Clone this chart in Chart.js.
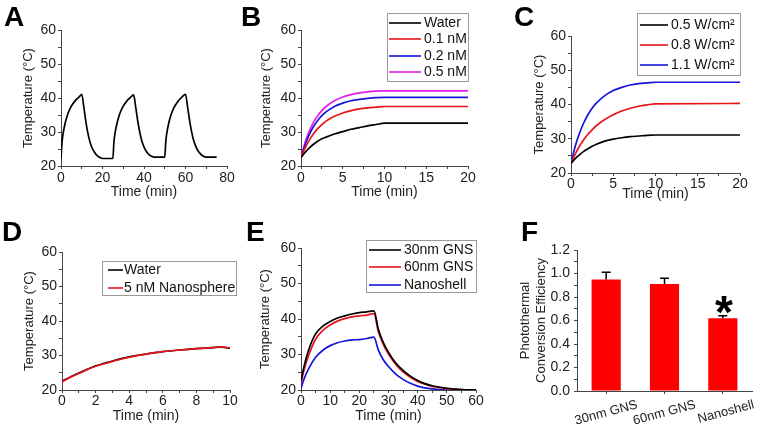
<!DOCTYPE html>
<html>
<head>
<meta charset="utf-8">
<script src="https://cdn.jsdelivr.net/npm/chart.js@4.4.1/dist/chart.umd.min.js"></script>
<style>
body { margin: 0; background: #fff; }
#fig { position: relative; width: 762px; height: 434px; overflow: hidden; background: #fff; }
canvas { position: absolute; }
.tag { position: absolute; font: bold 28px "Liberation Sans", Arial, sans-serif; line-height: 28px; color: #000; }
</style>
</head>
<body>
<div id="fig">
  <canvas id="cA" width="254" height="217" style="left:0px;top:0px;width:254px;height:217px"></canvas>
  <canvas id="cB" width="254" height="217" style="left:254px;top:0px;width:254px;height:217px"></canvas>
  <canvas id="cC" width="254" height="217" style="left:508px;top:0px;width:254px;height:217px"></canvas>
  <canvas id="cD" width="254" height="217" style="left:0px;top:217px;width:254px;height:217px"></canvas>
  <canvas id="cE" width="254" height="217" style="left:254px;top:217px;width:254px;height:217px"></canvas>
  <canvas id="cF" width="254" height="217" style="left:508px;top:217px;width:254px;height:217px"></canvas>
  <div class="tag" style="left:4px;top:3px">A</div>
  <div class="tag" style="left:241px;top:3px">B</div>
  <div class="tag" style="left:514px;top:3px">C</div>
  <div class="tag" style="left:2px;top:218px">D</div>
  <div class="tag" style="left:246px;top:218px">E</div>
  <div class="tag" style="left:521px;top:218px">F</div>
</div>
<script>
// ---- data ----

// A: three heat / cool cycles
const timeA = [0, 0.5, 1, 2, 3, 4, 5, 6, 7, 8, 9, 10, 11, 12, 13, 14, 15, 16, 17, 18, 19, 20, 25,
  25.5, 26, 27, 28, 29, 30, 31, 32, 33, 34, 35, 36, 37, 38, 39, 40, 41, 42, 43, 44, 45, 50,
  50.5, 51, 52, 53, 54, 55, 56, 57, 58, 59, 60, 61, 62, 63, 64, 65, 66, 67, 68, 69, 70, 75];
const tempA = [22.2, 27, 29.5, 32.6, 34.8, 36.4, 37.6, 38.5, 39.3, 39.9, 40.5, 41.1, 37.3, 33, 29.5, 27, 25.3, 24.2, 23.3, 22.8, 22.4, 22.2, 22.2,
  27, 29.5, 32.6, 34.8, 36.4, 37.6, 38.5, 39.3, 39.9, 40.5, 40.9, 37.3, 33.2, 29.8, 27.3, 25.6, 24.4, 23.6, 23.1, 22.8, 22.6, 22.6,
  27.2, 29.7, 32.8, 35, 36.6, 37.8, 38.7, 39.5, 40.1, 40.7, 41.1, 37.4, 33.3, 29.9, 27.4, 25.7, 24.5, 23.7, 23.1, 22.8, 22.6, 22.6];

// B: concentration
const timeB = [0, 0.5, 1, 1.5, 2, 2.5, 3, 4, 5, 6, 7, 8, 9, 10, 20];
const waterB = [22.5, 24, 25.3, 26.4, 27.3, 28, 28.5, 29.4, 30.1, 30.8, 31.3, 31.8, 32.2, 32.6, 32.6];
const nm01B = [22.5, 25.3, 27.6, 29.5, 31, 32.2, 33.2, 34.6, 35.6, 36.3, 36.8, 37.1, 37.3, 37.5, 37.5];
const nm02B = [22.5, 26.3, 29.3, 31.6, 33.4, 34.8, 35.9, 37.5, 38.5, 39.2, 39.6, 39.9, 40.1, 40.2, 40.2];
const nm05B = [22.5, 27, 30.3, 32.9, 34.8, 36.3, 37.5, 39.2, 40.3, 41, 41.5, 41.8, 42, 42.1, 42.1];
const labelsB = ['Water', '0.1 nM', '0.2 nM', '0.5 nM'];

// C: laser power
const timeC = [0, 0.5, 1, 1.5, 2, 2.5, 3, 4, 5, 6, 7, 8, 9, 10, 20];
const w05C = [22.8, 24.2, 25.3, 26.3, 27.1, 27.8, 28.4, 29.3, 29.9, 30.3, 30.6, 30.8, 31, 31.1, 31.1];
const w08C = [22.8, 25.5, 27.8, 29.7, 31.3, 32.6, 33.8, 35.6, 37, 38.1, 38.9, 39.5, 39.9, 40.2, 40.3];
const w11C = [22.8, 27.8, 31.6, 34.6, 37, 38.9, 40.4, 42.6, 44.1, 45, 45.7, 46.1, 46.3, 46.5, 46.5];
const labelsC = ['0.5 W/cm\u00b2', '0.8 W/cm\u00b2', '1.1 W/cm\u00b2'];

// D: nanosphere control
const timeD = [0, 0.5, 1, 1.5, 2, 2.5, 3, 4, 5, 6, 7, 8, 9, 9.5, 10];
const waterD = [22.5, 23.8, 24.9, 26, 27, 27.7, 28.4, 29.6, 30.4, 31.1, 31.6, 32, 32.3, 32.4, 32.1];
const sphereD = [22.4, 23.7, 24.8, 25.9, 26.9, 27.6, 28.3, 29.5, 30.4, 31.1, 31.6, 32, 32.3, 32.5, 32.2];
const labelsD = ['Water', '5 nM Nanosphere'];

// E: heating then cooling
const timeE = [0, 1, 2.5, 5, 7.5, 10, 12.5, 15, 17.5, 20, 22.5, 25, 26.5, 28, 30, 32.5, 35, 37.5, 40, 42.5, 45, 50, 55, 60];
const gns30E = [22.5, 26.5, 31, 35.8, 38, 39.3, 40.3, 40.9, 41.4, 41.8, 42, 42.3, 37.2, 33.8, 30.6, 27.6, 25.5, 23.9, 22.7, 21.8, 21.2, 20.5, 20.1, 20];
const gns60E = [22, 25.5, 29.5, 34.3, 36.8, 38.3, 39.4, 40.1, 40.6, 40.9, 41.1, 41.5, 36.5, 33.2, 30.1, 27.2, 25.1, 23.6, 22.4, 21.6, 21, 20.4, 20.1, 20];
const shellE = [20.5, 23, 25.8, 29.2, 31.2, 32.5, 33.3, 33.8, 34.1, 34.2, 34.5, 34.9, 31.3, 28.8, 26.6, 24.5, 23, 21.9, 21.1, 20.6, 20.3, 20, 20, 20];
const labelsE = ['30nm GNS', '60nm GNS', 'Nanoshell'];

// F: conversion efficiency
const catF = ['30nm GNS', '60nm GNS', 'Nanoshell'];
const effF = [0.95, 0.91, 0.62];
const errF = [0.06, 0.05, 0.02];
const markF = ['', '', '*'];

// ---- drawing ----
const fam = '"Liberation Sans", Arial, sans-serif';
const axisCol = '#444';
const txtCol = '#222';

// boxed legend inside the plot, like the original figure
Chart.register({
  id: 'boxLegend',
  afterDraw(chart, args, o) {
    if (!o.box) return;
    const ctx = chart.ctx;
    ctx.save();
    ctx.strokeStyle = '#9a9a9a';
    ctx.lineWidth = 1;
    ctx.strokeRect(o.box[0] + 0.5, o.box[1] + 0.5, o.box[2], o.box[3]);
    ctx.font = '14px ' + fam;
    ctx.textBaseline = 'middle';
    ctx.textAlign = 'left';
    chart.data.datasets.forEach((ds, i) => {
      const y = o.rows[i];
      ctx.strokeStyle = ds.borderColor;
      ctx.lineWidth = 1.6;
      ctx.beginPath();
      ctx.moveTo(o.line[0], y);
      ctx.lineTo(o.line[1], y);
      ctx.stroke();
      ctx.fillStyle = '#111';
      ctx.fillText(ds.label, o.textX, y);
    });
    ctx.restore();
  }
});

// error bars and significance mark for the bar panel
Chart.register({
  id: 'errBars',
  afterDatasetsDraw(chart, args, o) {
    if (!o.on) return;
    const ctx = chart.ctx, ys = chart.scales.y;
    const meta = chart.getDatasetMeta(0);
    ctx.save();
    ctx.strokeStyle = '#000';
    ctx.lineWidth = 1.5;
    meta.data.forEach((bar, i) => {
      const top = ys.getPixelForValue(effF[i] + errF[i]);
      ctx.beginPath();
      ctx.moveTo(bar.x, bar.y);
      ctx.lineTo(bar.x, top);
      ctx.moveTo(bar.x - 4.5, top);
      ctx.lineTo(bar.x + 4.5, top);
      ctx.stroke();
      if (markF[i]) {
        ctx.font = 'bold 46px ' + fam;
        ctx.textAlign = 'center';
        ctx.textBaseline = 'alphabetic';
        ctx.fillStyle = '#000';
        ctx.fillText(markF[i], bar.x + 1, top + 12);
      }
    });
    ctx.restore();
  }
});

function axis(min, max, step, every, fmt, pad, fitSize, horiz, title) {
  return {
    type: 'linear', min: min, max: max,
    border: { display: true, color: axisCol, width: 1 },
    grid: { display: true, drawOnChartArea: false, drawTicks: true, tickLength: 3, color: axisCol, tickColor: axisCol },
    ticks: {
      stepSize: step, autoSkip: false, maxRotation: 0, padding: pad, color: txtCol,
      font: { family: fam, size: 14 },
      callback: v => (Math.round(v / step) % every === 0 ? fmt(v) : '')
    },
    title: title,
    afterFit: s => { if (horiz) s.height = fitSize; else s.width = fitSize; }
  };
}

function lineChart(id, p) {
  return new Chart(document.getElementById(id), {
    type: 'line',
    data: {
      datasets: p.sets.map(s => ({
        label: s.label,
        data: s.x.map((t, i) => ({ x: t, y: s.y[i] })),
        borderColor: s.color,
        borderWidth: 1.7,
        pointRadius: 0,
        cubicInterpolationMode: 'monotone',
        fill: false,
        order: s.order || 0
      }))
    },
    options: {
      responsive: false, animation: false, events: [],
      layout: { padding: { left: 0, top: p.top, right: p.right, bottom: 0 } },
      plugins: { legend: { display: false }, tooltip: { enabled: false }, boxLegend: p.legend || {} },
      scales: {
        x: axis(p.xr[0], p.xr[1], p.xr[2], 2, v => String(v), p.xPad, p.xH, true,
          { display: true, text: 'Time (min)', color: txtCol, font: { family: fam, size: 14 }, padding: { top: 0, bottom: p.xt } }),
        y: axis(20, 60, 5, 2, v => String(v), p.yPad, p.yW, false,
          { display: true, text: 'Temperature (\u00b0C)', color: txtCol, font: { family: fam, size: 13 }, padding: { top: p.yt, bottom: 0 } })
      }
    }
  });
}

lineChart('cA', {
  sets: [{ label: 'A', x: timeA, y: tempA, color: '#000' }],
  xr: [0, 80, 10], top: 30, right: 27, yW: 61, xH: 51, yPad: 2, xPad: 1, yt: 21, xt: 16
});

lineChart('cB', {
  sets: [
    { label: labelsB[0], x: timeB, y: waterB, color: '#000' },
    { label: labelsB[1], x: timeB, y: nm01B, color: '#e8141a' },
    { label: labelsB[2], x: timeB, y: nm02B, color: '#1515d8' },
    { label: labelsB[3], x: timeB, y: nm05B, color: '#e81ce8' }
  ],
  xr: [0, 20, 2.5], top: 30, right: 40, yW: 47, xH: 51, yPad: 2, xPad: 1, yt: 5, xt: 16,
  legend: { box: [133, 13, 81, 68], line: [135, 167], textX: 170, rows: [23, 39, 56, 72] }
});

lineChart('cC', {
  sets: [
    { label: labelsC[0], x: timeC, y: w05C, color: '#000' },
    { label: labelsC[1], x: timeC, y: w08C, color: '#e8141a' },
    { label: labelsC[2], x: timeC, y: w11C, color: '#1515d8' }
  ],
  xr: [0, 20, 2.5], top: 36, right: 22, yW: 63, xH: 44, yPad: 2, xPad: 0, yt: 24, xt: 14,
  legend: { box: [129, 13, 103, 62], line: [132, 160], textX: 163, rows: [25, 45, 65] }
});

lineChart('cD', {
  sets: [
    { label: labelsD[0], x: timeD, y: waterD, color: '#000', order: 1 },
    { label: labelsD[1], x: timeD, y: sphereD, color: '#e8141a', order: 0 }
  ],
  xr: [0, 10, 1], top: 35, right: 24, yW: 62, xH: 44, yPad: 2, xPad: 0, yt: 22, xt: 9,
  legend: { box: [102, 44, 134, 34], line: [108, 123], textX: 124, rows: [53, 71] }
});

lineChart('cE', {
  sets: [
    { label: labelsE[0], x: timeE, y: gns30E, color: '#000' },
    { label: labelsE[1], x: timeE, y: gns60E, color: '#e8141a' },
    { label: labelsE[2], x: timeE, y: shellE, color: '#1515d8' }
  ],
  xr: [0, 60, 5], top: 31, right: 32, yW: 47, xH: 44, yPad: 2, xPad: 0, yt: 4, xt: 9,
  legend: { box: [112, 23, 110, 52], line: [115, 147], textX: 150, rows: [33, 50, 68] }
});

new Chart(document.getElementById('cF'), {
  type: 'bar',
  data: {
    labels: catF,
    datasets: [{ label: 'Efficiency', data: effF, backgroundColor: '#ff0000', borderWidth: 0, barPercentage: 0.5, categoryPercentage: 1 }]
  },
  options: {
    responsive: false, animation: false, events: [],
    layout: { padding: { left: 0, top: 33, right: 10, bottom: 0 } },
    plugins: { legend: { display: false }, tooltip: { enabled: false }, errBars: { on: true } },
    scales: {
      x: {
        type: 'category', offset: true,
        border: { display: true, color: axisCol, width: 1 },
        grid: { display: true, offset: false, drawOnChartArea: false, tickLength: 3, color: axisCol, tickColor: axisCol },
        ticks: { autoSkip: false, minRotation: 15, maxRotation: 15, labelOffset: 31, padding: 3, color: txtCol, font: { family: fam, size: 13 } },
        afterFit: s => { s.height = 43; }
      },
      y: axis(0, 1.2, 0.1, 2, v => v.toFixed(1), 4, 69, false,
        { display: true, text: ['Photothermal', 'Conversion Efficiency'], color: txtCol, font: { family: fam, size: 13, lineHeight: 1.23 }, padding: { top: 9, bottom: 0 } })
    }
  }
});
</script>
</body>
</html>
